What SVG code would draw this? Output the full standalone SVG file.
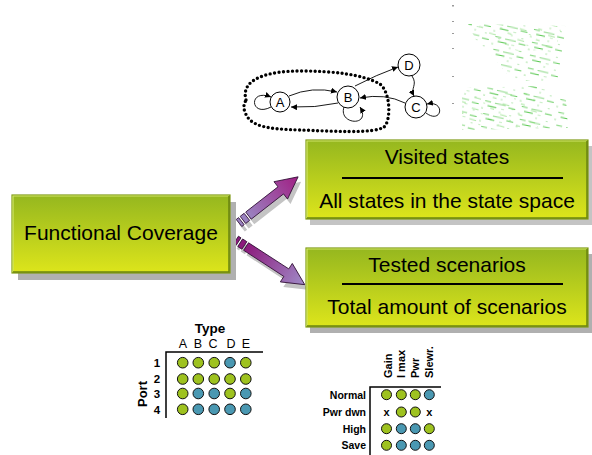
<svg xmlns="http://www.w3.org/2000/svg" width="592" height="455" viewBox="0 0 592 455">
<style>
text{font-family:"Liberation Sans",Arial,sans-serif;fill:#000}
.bt{font-size:21px;text-anchor:middle}
.st{font-size:13px;text-anchor:middle}
.sc{fill:#fff;stroke:#000;stroke-width:1}
.se{fill:none;stroke:#000;stroke-width:0.9;marker-end:url(#ah)}
.g{fill:#9ec21f;stroke:#111;stroke-width:1}
.b{fill:#4a98b2;stroke:#111;stroke-width:1}
.ax{stroke:#000;stroke-width:1.5;fill:none}
.bold{font-weight:bold}
.shadow{fill:#b0b0b0}
.box{fill:url(#boxg);stroke:#7f9a16;stroke-width:1.2}
.hl{stroke:#cfe468;stroke-width:1.2;fill:none}
.dk{stroke:#6a8410;stroke-width:1.5;fill:none}
.arr{stroke:#2e0e33;stroke-width:0.8}
.ash{fill:#c4c4c4}
</style>
<defs>
<linearGradient id="boxg" x1="0" y1="0" x2="0" y2="1">
<stop offset="0" stop-color="#95b71f"/>
<stop offset="1" stop-color="#dde51b"/>
</linearGradient>
<linearGradient id="aup" x1="0" y1="0" x2="1" y2="0">
<stop offset="0" stop-color="#9a82c0"/>
<stop offset="1" stop-color="#a01f84"/>
</linearGradient>
<linearGradient id="adn" x1="0" y1="0" x2="1" y2="0">
<stop offset="0" stop-color="#8c1a7c"/>
<stop offset="1" stop-color="#a08cc8"/>
</linearGradient>
<marker id="ah" viewBox="0 0 6 6" refX="6" refY="3" markerWidth="6" markerHeight="6" markerUnits="userSpaceOnUse" orient="auto">
<path d="M0,0 L6,3 L0,6 z" fill="#000"/>
</marker>
<pattern id="scat" width="37" height="13" patternUnits="userSpaceOnUse" patternTransform="rotate(9)">
<g stroke="#3fbf35" stroke-width="1">
<line x1="1" y1="1" x2="8" y2="1.6" opacity="0.8"/>
<line x1="11" y1="5" x2="13" y2="5.2" opacity="0.45"/>
<line x1="17" y1="2" x2="26" y2="2.8" opacity="0.9"/>
<line x1="3" y1="8.5" x2="5" y2="8.6" opacity="0.35"/>
<line x1="14" y1="10.5" x2="20" y2="11" opacity="0.7"/>
<line x1="29" y1="7" x2="31" y2="7" opacity="0.4"/>
<line x1="24" y1="11.5" x2="35" y2="12.3" opacity="0.6"/>
<line x1="31" y1="3.5" x2="34" y2="3.7" opacity="0.3"/>
</g>
</pattern>
<pattern id="scat2" width="29" height="11" patternUnits="userSpaceOnUse" patternTransform="rotate(13) translate(7,4)">
<g stroke="#5ccf4a" stroke-width="1">
<line x1="2" y1="2" x2="6" y2="2.3" opacity="0.55"/>
<line x1="13" y1="6" x2="20" y2="6.5" opacity="0.5"/>
<line x1="23" y1="9.5" x2="25" y2="9.6" opacity="0.35"/>
</g>
</pattern>
</defs>

<g id="scatter">
<polygon points="468,24 566,26 563,58 557,82 512,80 492,56 476,40" fill="url(#scat)"/>
<polygon points="470,24 562,26 556,48 520,52 490,40" fill="url(#scat2)"/>
<polygon points="462,88 540,86 566,100 568,128 462,130" fill="url(#scat)"/>
<polygon points="462,95 535,92 538,128 462,128" fill="url(#scat2)"/>
<g fill="#9a9a9a">
<rect x="452" y="5" width="2" height="1.5"/>
<rect x="452" y="21" width="2" height="1"/>
<rect x="452" y="33" width="2" height="1"/>
<rect x="452" y="48" width="2" height="1"/>
<rect x="452" y="76" width="2" height="1"/>
<rect x="452" y="103" width="2" height="1"/>
</g>
</g>

<g id="state-diagram">
<path d="M246,100 C240,78 270,71 300,71 C332,71 362,74 380,84 C391,93 391,121 384,127 C374,134 330,131 300,130 C268,129 250,127 245,112 C243,107 244,104 246,100 Z" fill="none" stroke="#000" stroke-width="3.4" stroke-dasharray="0 4.5" stroke-linecap="round"/>
<g id="edges">
<path class="se" d="M271,107 C250,118 248,88 271,97"/>
<path class="se" d="M344,107 C338,125 372,127 360,107"/>
<path class="se" d="M426,113 C442,125 446,100 427,104"/>
<path class="se" d="M289,96 Q312,86 337,92"/>
<path class="se" d="M338,103 Q315,108 291,107"/>
<path class="se" d="M355,86 Q376,75 398,67"/>
<path class="se" d="M412,76 C418,85 410,88 414,96"/>
<path class="se" d="M405,103 Q385,93 360,98"/>
</g>
<g id="state-A"><circle class="sc" cx="280" cy="102" r="10"/><text class="st" x="280" y="107">A</text></g>
<g id="state-B"><circle class="sc" cx="348" cy="97" r="11"/><text class="st" x="348" y="102">B</text></g>
<g id="state-C"><circle class="sc" cx="416" cy="107" r="11"/><text class="st" x="416" y="112">C</text></g>
<g id="state-D"><circle class="sc" cx="409" cy="65" r="11"/><text class="st" x="409" y="70">D</text></g>
</g>

<g id="connectors">
<g transform="translate(242,228) rotate(-38)" class="ash">
<rect x="0" y="-4.5" width="3" height="9"/><rect x="5" y="-4.5" width="5" height="9"/>
<polygon points="12,-4.5 53,-4.5 53,-11 75,0 53,11 53,4.5 12,4.5"/>
</g>
<g transform="translate(239,223) rotate(-38)" fill="url(#aup)" class="arr">
<rect x="0" y="-4.5" width="3" height="9" fill="#9a82c0"/><rect x="5" y="-4.5" width="5" height="9" fill="#9a82c0"/>
<polygon points="12,-4.5 53,-4.5 53,-11 75,0 53,11 53,4.5 12,4.5"/>
</g>
<g transform="translate(239,245) rotate(33)" class="ash">
<rect x="0" y="-4.5" width="3" height="9"/><rect x="5" y="-4.5" width="5" height="9"/>
<polygon points="12,-4.5 60,-4.5 60,-11 82,0 60,11 60,4.5 12,4.5"/>
</g>
<g transform="translate(236,240) rotate(33)" fill="url(#adn)" class="arr">
<rect x="0" y="-4.5" width="3" height="9" fill="#8c1a7c"/><rect x="5" y="-4.5" width="5" height="9" fill="#8c1a7c"/>
<polygon points="12,-4.5 60,-4.5 60,-11 82,0 60,11 60,4.5 12,4.5"/>
</g>
</g>

<g id="functional-coverage">
<rect class="shadow" x="18" y="202" width="218" height="78"/>
<rect class="box" x="12" y="195" width="218" height="78"/>
<polyline class="hl" points="13,272 13,196 229,196"/>
<polyline class="dk" points="229,196 229,272 13,272"/>
<text class="bt" x="121" y="240">Functional Coverage</text>
</g>

<g id="visited-states">
<rect x="310" y="146" width="282" height="79" fill="#c4c4c4"/>
<rect class="box" x="306" y="140" width="282" height="79"/>
<polyline class="hl" points="307,218 307,141 587,141"/>
<polyline class="dk" points="587,141 587,218 307,218"/>
<text class="bt" x="447" y="164">Visited states</text>
<line x1="342" y1="178" x2="563" y2="178" stroke="#000" stroke-width="2"/>
<text class="bt" x="447" y="208">All states in the state space</text>
</g>

<g id="tested-scenarios">
<rect x="310" y="254" width="282" height="79" class="shadow"/>
<rect class="box" x="306" y="248" width="282" height="79"/>
<polyline class="hl" points="307,326 307,249 587,249"/>
<polyline class="dk" points="587,249 587,326 307,326"/>
<text class="bt" x="447" y="272">Tested scenarios</text>
<line x1="342" y1="284" x2="563" y2="284" stroke="#000" stroke-width="2"/>
<text class="bt" x="447" y="314">Total amount of scenarios</text>
</g>

<g id="port-type-table">
<text x="210" y="333" font-size="13.5" text-anchor="middle" class="bold">Type</text>
<g font-size="12.5" text-anchor="middle">
<text x="183" y="347.5">A</text><text x="198" y="347.5">B</text><text x="213" y="347.5">C</text><text x="231" y="347.5">D</text><text x="246" y="347.5">E</text>
</g>
<text transform="translate(147,394) rotate(-90)" font-size="13" text-anchor="middle" class="bold">Port</text>
<g font-size="11.5" text-anchor="middle" class="bold">
<text x="157" y="367">1</text><text x="157" y="383">2</text><text x="157" y="397.5">3</text><text x="157" y="413.5">4</text>
</g>
<path class="ax" d="M166,418 L166,352 L263,352"/>
<g>
<circle class="g" cx="182.7" cy="362.7" r="5.3"/><circle class="g" cx="198.3" cy="362.7" r="5.3"/><circle class="g" cx="214.2" cy="362.7" r="5.3"/><circle class="b" cx="230" cy="362.7" r="5.3"/><circle class="g" cx="245.8" cy="362.7" r="5.3"/>
<circle class="g" cx="182.7" cy="379" r="5.3"/><circle class="g" cx="198.3" cy="379" r="5.3"/><circle class="g" cx="214.2" cy="379" r="5.3"/><circle class="g" cx="230" cy="379" r="5.3"/><circle class="g" cx="245.8" cy="379" r="5.3"/>
<circle class="g" cx="182.7" cy="393.5" r="5.3"/><circle class="b" cx="198.3" cy="393.5" r="5.3"/><circle class="b" cx="214.2" cy="393.5" r="5.3"/><circle class="g" cx="230" cy="393.5" r="5.3"/><circle class="b" cx="245.8" cy="393.5" r="5.3"/>
<circle class="g" cx="182.7" cy="409.3" r="5.3"/><circle class="b" cx="198.3" cy="409.3" r="5.3"/><circle class="b" cx="214.2" cy="409.3" r="5.3"/><circle class="b" cx="230" cy="409.3" r="5.3"/><circle class="b" cx="245.8" cy="409.3" r="5.3"/>
</g>
</g>

<g id="mode-table">
<g font-size="11" class="bold">
<text transform="translate(391.5,378) rotate(-90)">Gain</text>
<text transform="translate(405,378) rotate(-90)">I max</text>
<text transform="translate(419,378) rotate(-90)">Pwr</text>
<text transform="translate(433,378) rotate(-90)">Slewr.</text>
</g>
<g font-size="10.5" text-anchor="end" class="bold">
<text x="366" y="398.5">Normal</text>
<text x="366" y="416">Pwr dwn</text>
<text x="366" y="432.5">High</text>
<text x="366" y="449">Save</text>
</g>
<path class="ax" d="M370,455 L370,387 L441,387"/>
<circle class="g" cx="386.5" cy="394.7" r="5"/><circle class="g" cx="401.3" cy="394.7" r="5"/><circle class="g" cx="415.3" cy="394.7" r="5"/><circle class="b" cx="429.3" cy="394.7" r="5"/>
<text x="386.5" y="415.5" font-size="11" text-anchor="middle" class="bold">x</text><circle class="g" cx="401.3" cy="412" r="5"/><circle class="g" cx="415.3" cy="412" r="5"/><text x="429.3" y="415.5" font-size="11" text-anchor="middle" class="bold">x</text>
<circle class="g" cx="386.5" cy="428.7" r="5"/><circle class="b" cx="401.3" cy="428.7" r="5"/><circle class="b" cx="415.3" cy="428.7" r="5"/><circle class="g" cx="429.3" cy="428.7" r="5"/>
<circle class="g" cx="386.5" cy="445.3" r="5"/><circle class="b" cx="401.3" cy="445.3" r="5"/><circle class="b" cx="415.3" cy="445.3" r="5"/><circle class="b" cx="429.3" cy="445.3" r="5"/>
</g>
</svg>
